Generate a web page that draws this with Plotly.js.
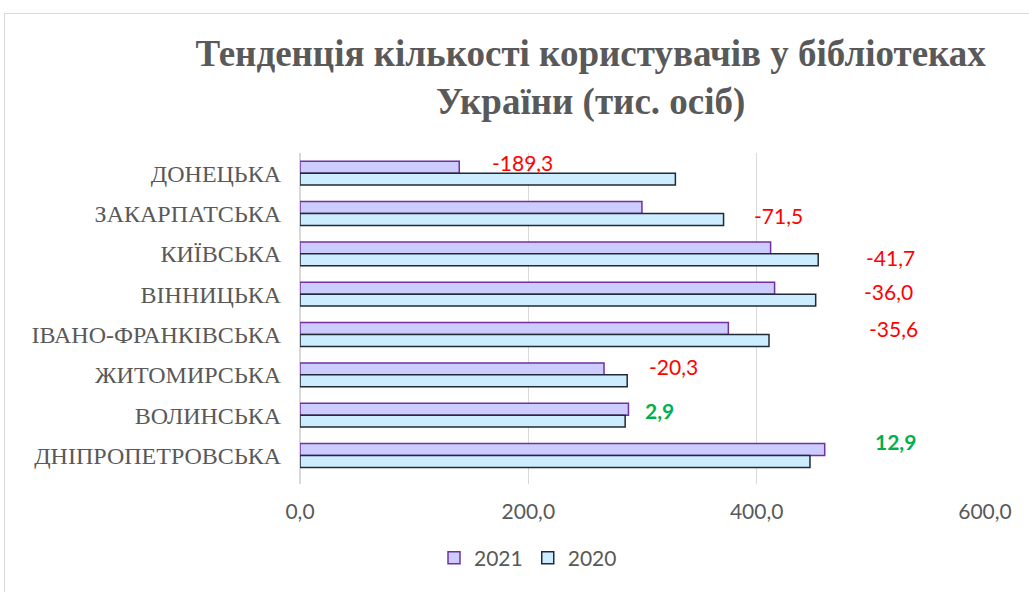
<!DOCTYPE html>
<html>
<head>
<meta charset="utf-8">
<script src="https://cdn.plot.ly/plotly-3.0.1.min.js"></script>
<style>
  html, body { margin: 0; padding: 0; background: #fff; overflow: hidden; }
  #chart { position: absolute; left: 0; top: 0; width: 1029px; height: 592px; }
  #frame { position: absolute; left: 4px; top: 13px; width: 1040px; height: 600px;
           border: 1px solid #d9d9d9; pointer-events: none; }
</style>
</head>
<body>
<div id="chart"></div>
<div id="frame"></div>
<script>
// ---- data ----
const regions = ["ДОНЕЦЬКА", "ЗАКАРПАТСЬКА", "КИЇВСЬКА", "ВІННИЦЬКА",
                 "ІВАНО-ФРАНКІВСЬКА", "ЖИТОМИРСЬКА", "ВОЛИНСЬКА", "ДНІПРОПЕТРОВСЬКА"];
const users2021 = [139.5, 299.5, 412.2, 415.7, 375.2, 266.3, 287.7, 459.6];
const users2020 = [328.8, 371.0, 453.9, 451.7, 410.8, 286.6, 284.8, 446.7];
const changes   = [-189.3, -71.5, -41.7, -36.0, -35.6, -20.3, 2.9, 12.9];
const xTicks    = [0, 200, 400, 600];

// ---- label placement (styling) ----
const labelX      = [194.5, 419.5, 517, 515.5, 520, 327, 314.5, 522];
const labelShiftY = [11, -2, -4, 3, 6, 8, 5, 14];

const fmt = v => v.toFixed(1).replace('.', ',');

const traces = [
  { type: 'bar', orientation: 'h', name: '2021', y: regions, x: users2021,
    marker: { color: '#CCCCFF', line: { color: '#7030A0', width: 1.5 } }, hoverinfo: 'x+y' },
  { type: 'bar', orientation: 'h', name: '2020', y: regions, x: users2020,
    marker: { color: '#CCECFF', line: { color: '#222A35', width: 1.5 } }, hoverinfo: 'x+y' }
];

const annotations = changes.map((c, i) => ({
  x: labelX[i], y: regions[i], xref: 'x', yref: 'y',
  yshift: labelShiftY[i], showarrow: false,
  text: c > 0 ? '<b>' + fmt(c) + '</b>' : fmt(c),
  font: { family: 'Lato, "Open Sans", sans-serif', size: 21, color: c > 0 ? '#00B050' : '#FF0000' },
  xanchor: 'center', yanchor: 'middle'
}));

const layout = {
  width: 1029, height: 592,
  margin: { l: 300, r: 44, t: 153, b: 108, autoexpand: false },
  paper_bgcolor: '#ffffff', plot_bgcolor: '#ffffff',
  separators: ',.',
  barmode: 'group', bargap: 0.41, bargroupgap: 0,
  title: {
    text: 'Тенденція кількості користувачів у бібліотеках<br>України (тис. осіб)',
    font: { family: '"Liberation Serif", "Times New Roman", serif', size: 37, color: '#595959', weight: 'bold' },
    x: 0.574, xref: 'container', xanchor: 'center',
    y: 1 - 66 / 592, yref: 'container', yanchor: 'middle'
  },
  xaxis: {
    range: [0, 600], tickvals: xTicks, tickformat: '.1f', automargin: false,
    showgrid: true, gridcolor: '#d9d9d9', gridwidth: 1.3,
    zeroline: true, zerolinecolor: '#d9d9d9', zerolinewidth: 1.3,
    showline: false, ticks: '', ticklabelstandoff: 13,
    tickfont: { family: 'Lato, "Open Sans", sans-serif', size: 21, color: '#595959' },
    fixedrange: true
  },
  yaxis: {
    type: 'category', autorange: 'reversed', automargin: false,
    showgrid: false, zeroline: false, showline: false, ticks: '',
    ticklabelstandoff: 18,
    tickfont: { family: '"Liberation Serif", "Times New Roman", serif', size: 24, color: '#595959' },
    fixedrange: true
  },
  legend: {
    orientation: 'h', xref: 'container', yref: 'container',
    x: 528 / 1029, y: 1 - 558 / 592, xanchor: 'center', yanchor: 'middle',
    font: { family: 'Lato, "Open Sans", sans-serif', size: 21, color: '#595959' },
    itemwidth: 30, traceorder: 'normal'
  },
  annotations: annotations,
  showlegend: true
};

Plotly.newPlot('chart', traces, layout, { displayModeBar: false, staticPlot: true });
</script>
</body>
</html>
